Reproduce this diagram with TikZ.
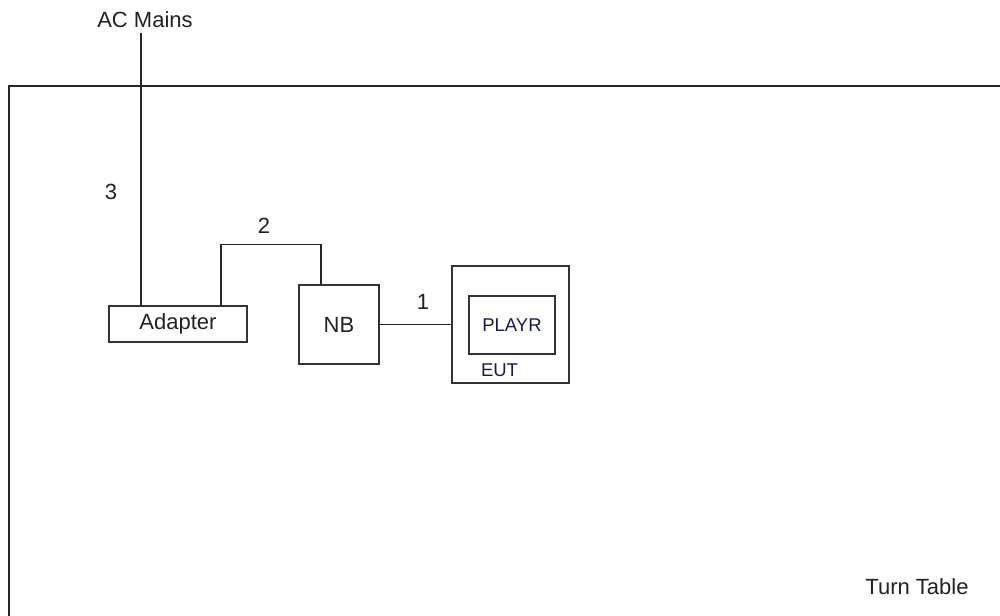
\documentclass[tikz,border=0pt]{standalone}
\usepackage{fontspec}
\setmainfont{Liberation Sans}
\definecolor{txt}{HTML}{222222}
\definecolor{navy}{HTML}{1A1A4A}
\begin{document}
\begin{tikzpicture}[x=1pt,y=-1pt,
  wire/.style={line width=1.3pt,draw=black!85},
  box/.style={draw=black!80,line width=1.3pt,inner sep=0pt,fill=none},
  lbl/.style={inner sep=0pt,text=txt,font=\fontsize{22}{26}\selectfont},
  nlbl/.style={inner sep=0pt,text=navy,font=\fontsize{18.5}{22}\selectfont}]
\useasboundingbox (0,0) rectangle (1000,615);
\fill[white] (0,0) rectangle (1000,615);
% turn table outline
\draw[line width=1.6pt,black!85] (9,616) -- (9,86) -- (1001,86);
% nodes
\node[lbl] (acm) at (145,20) {AC Mains};
\node[box,lbl,minimum width=138pt,minimum height=36pt] (adapter) at (178,324) {Adapter};
\node[box,lbl,minimum width=80pt,minimum height=79pt] (nb) at (339,324.5) {NB};
\node[box,minimum width=117pt,minimum height=117pt] (eut) at (510.5,324.5) {};
\node[box,nlbl,minimum width=86pt,minimum height=58pt] (playr) at (512,325) {PLAYR};
\node[nlbl] (eutl) at (499.5,370) {EUT};
\node[lbl] (tt) at (917,587) {Turn Table};
\node[lbl] (l3) at (111,192) {3};
\node[lbl] (l2) at (264,226) {2};
\node[lbl] (l1) at (423,302) {1};
\coordinate (acend) at (141,33);
% connectors
\draw[wire] (acend) -- (acend |- adapter.north);
\draw[wire] ([xshift=43pt]adapter.north) -- ++(0,-61) -| ([xshift=-18pt]nb.north);
\draw[wire] (nb.east) -- (nb.east -| eut.west);
\end{tikzpicture}
\end{document}
